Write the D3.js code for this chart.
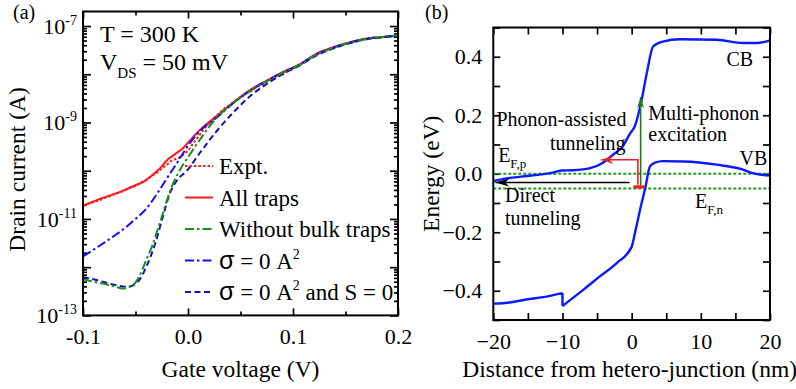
<!DOCTYPE html>
<html><head><meta charset="utf-8">
<script src="https://cdn.jsdelivr.net/npm/d3@7"></script>
<style>
body{margin:0;background:#fff}
svg{display:block}
text{font-family:"Liberation Serif","Times New Roman",serif;fill:#000}
</style></head><body>
<svg id="fig" width="796" height="389"></svg>
<script>
// ---------- (a) drain current vs gate voltage ----------
const expV = [-0.1,-0.095,-0.09,-0.085,-0.08,-0.075,-0.07,-0.065,-0.06,-0.055,-0.05,-0.045,-0.04,-0.035,-0.03,-0.025,-0.02,-0.015,-0.01,-0.005,0.0,0.005,0.01,0.015,0.02,0.025,0.03,0.035,0.04,0.045,0.05,0.055,0.06,0.065,0.07,0.075,0.08,0.085,0.09,0.095,0.1,0.105,0.11,0.115,0.12,0.125,0.13,0.135,0.14,0.145,0.15,0.155,0.16,0.165,0.17,0.175,0.18,0.185,0.19,0.195,0.2];
const expI = [1.85e-11,2.05e-11,2.25e-11,2.4e-11,2.7e-11,2.9e-11,3.25e-11,3.5e-11,3.9e-11,4.5e-11,4.8e-11,5.7e-11,6.3e-11,7.7e-11,8.9e-11,1.12e-10,1.33e-10,1.67e-10,1.78e-10,2.1e-10,2.6e-10,3.7e-10,5.1e-10,7.3e-10,9.4e-10,1.27e-9,1.58e-9,1.98e-9,2.32e-9,2.85e-9,3.3e-9,3.95e-9,4.45e-9,5.35e-9,5.95e-9,7.0e-9,7.8e-9,9.0e-9,9.9e-9,1.16e-8,1.28e-8,1.52e-8,1.73e-8,2.03e-8,2.32e-8,2.73e-8,2.97e-8,3.34e-8,3.57e-8,3.94e-8,4.17e-8,4.54e-8,4.76e-8,5.14e-8,5.36e-8,5.63e-8,5.77e-8,5.93e-8,6.0e-8,6.22e-8,6.4e-8];

const allV = [-0.1,-0.1,-0.09,-0.08,-0.07,-0.06,-0.05,-0.043,-0.035,-0.027,-0.02,-0.01,-0.005,0.0,0.011,0.028,0.043,0.059,0.075,0.09,0.107,0.123,0.138,0.154,0.17,0.185,0.2];
const allI = [1e-14,1.9e-11,2.3e-11,2.8e-11,3.3e-11,4.0e-11,5.0e-11,5.8e-11,7.8e-11,1.1e-10,1.65e-10,2.4e-10,2.9e-10,3.8e-10,6.9e-10,1.4e-9,2.6e-9,4.7e-9,7.4e-9,1.1e-8,1.65e-8,2.7e-8,3.6e-8,4.6e-8,5.5e-8,5.9e-8,6.3e-8];

const noBulkV = [-0.1,-0.1,-0.09,-0.08,-0.07,-0.062,-0.055,-0.05,-0.045,-0.039,-0.034,-0.03,-0.025,-0.02,-0.014,-0.007,0.0,0.011,0.028,0.043,0.06,0.075,0.09,0.107,0.123,0.138,0.154,0.17,0.185,0.2];
const noBulkI = [1e-14,5.6e-13,5.0e-13,4.5e-13,4.0e-13,3.6e-13,4.0e-13,4.8e-13,7.5e-13,1.55e-12,2.8e-12,5.1e-12,1.1e-11,2.45e-11,5.5e-11,1.1e-10,1.9e-10,4.3e-10,1.3e-9,2.5e-9,4.6e-9,7.2e-9,1.07e-8,1.6e-8,2.6e-8,3.5e-8,4.5e-8,5.4e-8,5.9e-8,6.4e-8];

const sigmaV = [-0.1,-0.09,-0.08,-0.07,-0.06,-0.05,-0.04,-0.03,-0.02,-0.01,0.0,0.011,0.028,0.043,0.059,0.075,0.09,0.107,0.123,0.138,0.154,0.17,0.185,0.2];
const sigmaI = [1.66e-12,2.3e-12,3.2e-12,4.5e-12,6.5e-12,1.0e-11,1.6e-11,3.2e-11,7.0e-11,1.5e-10,3.3e-10,6.5e-10,1.3e-9,2.5e-9,4.6e-9,7.3e-9,1.08e-8,1.62e-8,2.65e-8,3.55e-8,4.55e-8,5.45e-8,5.9e-8,6.3e-8];

const sigmaSV = [-0.1,-0.087,-0.07,-0.058,-0.05,-0.045,-0.039,-0.031,-0.024,-0.017,-0.0105,-0.001,0.011,0.028,0.043,0.059,0.075,0.09,0.107,0.123,0.138,0.154,0.17,0.185,0.2];
const sigmaSI = [6.3e-13,5.4e-13,4.3e-13,3.9e-13,4.5e-13,6.0e-13,1.1e-12,3.2e-12,1.1e-11,3.5e-11,6.3e-11,1.0e-10,2.3e-10,6.9e-10,1.6e-9,3.5e-9,6.3e-9,1.0e-8,1.55e-8,2.5e-8,3.4e-8,4.4e-8,5.3e-8,5.8e-8,6.3e-8];

const gateTicks = [-0.1, 0.0, 0.1, 0.2];
const gateLabels = ["-0.1", "0.0", "0.1", "0.2"];
const currentLabelExp = [-7, -9, -11, -13];
const legendNames = ["Expt.", "All traps", "Without bulk traps", "σ = 0 A2", "σ = 0 A2 and S = 0"];

// ---------- (b) band diagram ----------
const cbX = [-20,-19,-16,-13.3,-11.4,-10,-8.5,-6,-4.2,-2.7,-1.3,-0.3,0.5,1.45,2.2,3.1,4.5,7,12.3,16.1,18.1,20];
const cbE = [-0.025,-0.02,-0.01,-0.003,0.004,0.011,0.012,0.019,0.037,0.065,0.093,0.135,0.165,0.253,0.345,0.435,0.452,0.46,0.458,0.447,0.447,0.456];
const vbX = [-20,-17.6,-15.2,-12.8,-10,-10,-7,-4.6,-2.2,0,0.5,1.2,2.0,2.65,3.4,4.5,7.5,12.3,16.1,17.1,20];
const vbE = [-0.444,-0.44,-0.43,-0.422,-0.408,-0.452,-0.397,-0.351,-0.306,-0.25,-0.2,-0.125,-0.045,0.025,0.038,0.043,0.042,0.031,0.014,0.005,-0.006];
const fermiP = 0.0, fermiN = -0.05;
const trapX = [0.25, 1.85], trapE = -0.045;
const distTicks = [-20, -10, 0, 10, 20];
const energyTicks = [-0.4, -0.2, 0.0, 0.2, 0.4];

const svg = d3.select("#fig");
svg.append("rect").attr("width", 796).attr("height", 389).attr("fill", "#fff");

function drawTicks(g, axisFn, scale, values, size, tr) {
  g.append("g").attr("transform", tr)
    .call(axisFn(scale).tickValues(values).tickSize(-size).tickFormat(""))
    .call(s => s.select(".domain").remove())
    .selectAll("line").attr("stroke", "#000").attr("stroke-width", 1.7);
}

// smooth path that keeps vertical jumps (repeated x) as straight segments
function smoothPath(xs, ys, sx, sy) {
  const pts = xs.map((x, i) => [sx(x), sy(ys[i])]);
  const gen = d3.line().curve(d3.curveMonotoneX);
  const parts = []; let cur = [pts[0]];
  for (let i = 1; i < pts.length; i++) {
    if (xs[i] === xs[i - 1]) {
      parts.push(cur); parts.push([pts[i - 1], pts[i]]); cur = [pts[i]];
    } else cur.push(pts[i]);
  }
  parts.push(cur);
  return parts.filter(p => p.length > 1)
    .map(p => p.length === 2 ? d3.line()(p) : gen(p)).join("");
}

// ===== panel (a) =====
const xA = d3.scaleLinear().domain([-0.1, 0.2]).range([83, 398]);
const yA = d3.scaleLog().domain([1e-13, 2e-7]).range([315.4, 11.5]);
const gA = svg.append("g");
const [ax0, ax1] = xA.range(), [ay0, ay1] = yA.range();

gA.append("clipPath").attr("id", "clipA").append("rect")
  .attr("x", ax0).attr("y", ay1).attr("width", ax1 - ax0).attr("height", ay0 - ay1);

const majorDec = d3.range(-13, -6).map(e => Math.pow(10, e));
const minorDec = [];
d3.range(-13, -6).forEach(e => d3.range(2, 10).forEach(m => {
  const v = m * Math.pow(10, e); if (v < 2e-7) minorDec.push(v);
}));
const gateMinor = [-0.05, 0.05, 0.15];

drawTicks(gA, d3.axisBottom, xA, gateTicks, 7, `translate(0,${ay0})`);
drawTicks(gA, d3.axisBottom, xA, gateMinor, 4, `translate(0,${ay0})`);
drawTicks(gA, d3.axisTop, xA, gateTicks, 7, `translate(0,${ay1})`);
drawTicks(gA, d3.axisTop, xA, gateMinor, 4, `translate(0,${ay1})`);
drawTicks(gA, d3.axisLeft, yA, majorDec, 8, `translate(${ax0},0)`);
drawTicks(gA, d3.axisLeft, yA, minorDec, 4, `translate(${ax0},0)`);
drawTicks(gA, d3.axisRight, yA, majorDec, 8, `translate(${ax1},0)`);
drawTicks(gA, d3.axisRight, yA, minorDec, 4, `translate(${ax1},0)`);

// x tick labels
gA.append("g").attr("transform", `translate(0,${ay0})`)
  .call(d3.axisBottom(xA).tickValues(gateTicks).tickSize(0).tickPadding(13)
    .tickFormat((d, i) => gateLabels[i]))
  .call(s => s.select(".domain").remove())
  .selectAll("text").attr("font-size", 22).attr("font-family", "Liberation Serif");

// y tick labels 10^n
currentLabelExp.forEach(e => {
  const t = gA.append("text").attr("x", ax0 - 6).attr("y", yA(Math.pow(10, e)) + 8)
    .attr("text-anchor", "end").attr("font-size", 22);
  t.append("tspan").text("10");
  t.append("tspan").attr("dy", -9).attr("font-size", 14).text(String(e));
});

const seriesA = [
  { v: expV, i: expI, color: "#ff1a1a", dash: "2.5,2", w: 2 },
  { v: allV, i: allI, color: "#ff1a1a", dash: null, w: 2 },
  { v: noBulkV, i: noBulkI, color: "#1a8c1a", dash: "9,3,2.5,3", w: 2 },
  { v: sigmaV, i: sigmaI, color: "#1010ff", dash: "9,3,2.5,3", w: 2 },
  { v: sigmaSV, i: sigmaSI, color: "#1414b4", dash: "6,3.5", w: 2 }
];
const curvesA = gA.append("g").attr("clip-path", "url(#clipA)");
[1, 0, 3, 4, 2].forEach(k => {
  const s = seriesA[k];
  const d = k === 0
    ? d3.line().x((v, j) => xA(v)).y((v, j) => yA(s.i[j]))(s.v)
    : smoothPath(s.v, s.i, xA, yA);
  curvesA.append("path").attr("d", d).attr("fill", "none")
    .attr("stroke", s.color).attr("stroke-width", s.w)
    .attr("stroke-dasharray", s.dash).attr("stroke-linejoin", "round");
});

gA.append("rect").attr("x", ax0).attr("y", ay1).attr("width", ax1 - ax0).attr("height", ay0 - ay1)
  .attr("fill", "none").attr("stroke", "#000").attr("stroke-width", 2);

// legend
legendNames.forEach((name, k) => {
  const y = 166 + k * 31.5;
  const s = seriesA[k];
  gA.append("line").attr("x1", 185).attr("x2", 213).attr("y1", y).attr("y2", y)
    .attr("stroke", s.color).attr("stroke-width", s.w).attr("stroke-dasharray", s.dash);
  const t = gA.append("text").attr("x", 219).attr("y", y + 8).attr("font-size", 23);
  if (name.startsWith("σ")) {
    t.append("tspan").attr("font-family", "Liberation Sans").attr("font-size", 25).text("σ");
    t.append("tspan").text(" = 0 A");
    t.append("tspan").attr("dy", -10).attr("font-size", 14).text("2");
    t.append("tspan").attr("dy", 10).text(name.slice(8));
  } else t.text(name);
});

// conditions
gA.append("text").attr("x", 100).attr("y", 41.5).attr("font-size", 24).text("T = 300 K");
const vds = gA.append("text").attr("x", 100).attr("y", 69.5).attr("font-size", 24);
vds.append("tspan").text("V");
vds.append("tspan").attr("dy", 8).attr("font-size", 15).text("DS");
vds.append("tspan").attr("dy", -8).text(" = 50 mV");

gA.append("text").attr("x", (ax0 + ax1) / 2).attr("y", 377).attr("text-anchor", "middle")
  .attr("font-size", 23.5).text("Gate voltage (V)");
gA.append("text").attr("transform", `translate(25,${(ay0 + ay1) / 2 + 6}) rotate(-90)`)
  .attr("text-anchor", "middle").attr("font-size", 23.5).text("Drain current (A)");
gA.append("text").attr("x", 13).attr("y", 19).attr("font-size", 20).text("(a)");

// ===== panel (b) =====
const xB = d3.scaleLinear().domain([-20, 20]).range([493.3, 770]);
const yB = d3.scaleLinear().domain([-0.5, 0.5]).range([320, 27.5]);
const gB = svg.append("g");
const [bx0, bx1] = xB.range(), [by0, by1] = yB.range();

drawTicks(gB, d3.axisBottom, xB, d3.range(-20, 21, 5), 7, `translate(0,${by0})`);
drawTicks(gB, d3.axisTop, xB, d3.range(-20, 21, 5), 7, `translate(0,${by1})`);
const eTicksAll = d3.range(-5, 6).map(k => k / 10);
drawTicks(gB, d3.axisLeft, yB, eTicksAll, 7, `translate(${bx0},0)`);
drawTicks(gB, d3.axisRight, yB, eTicksAll, 7, `translate(${bx1},0)`);

gB.append("g").attr("transform", `translate(0,${by0})`)
  .call(d3.axisBottom(xB).tickValues(distTicks).tickSize(0).tickPadding(13).tickFormat(d3.format("d")))
  .call(s => s.select(".domain").remove())
  .selectAll("text").attr("font-size", 22).attr("font-family", "Liberation Serif");
gB.append("g").attr("transform", `translate(${bx0},0)`)
  .call(d3.axisLeft(yB).tickValues(energyTicks).tickSize(0).tickPadding(11).tickFormat(d3.format(".1f")))
  .call(s => s.select(".domain").remove())
  .selectAll("text").attr("font-size", 22).attr("font-family", "Liberation Serif");

// Fermi levels
[fermiP, fermiN].forEach(e => {
  gB.append("line").attr("x1", bx0).attr("x2", bx1).attr("y1", yB(e)).attr("y2", yB(e))
    .attr("stroke", "#1f9a1f").attr("stroke-width", 2).attr("stroke-dasharray", "3,2");
});

gB.append("path").attr("d", smoothPath(cbX, cbE, xB, yB)).attr("fill", "none").attr("stroke", "#0a1aff").attr("stroke-width", 2.4);
gB.append("path").attr("d", smoothPath(vbX, vbE, xB, yB)).attr("fill", "none").attr("stroke", "#0a1aff").attr("stroke-width", 2.4);

// arrow heads
const defs = svg.append("defs");
function head(id, color, w, h) {
  defs.append("marker").attr("id", id).attr("viewBox", `0 0 ${w} ${h}`)
    .attr("refX", w).attr("refY", h / 2).attr("markerWidth", w).attr("markerHeight", h)
    .attr("markerUnits", "userSpaceOnUse").attr("orient", "auto")
    .append("path").attr("d", `M0,0L${w},${h / 2}L0,${h}L${w * 0.3},${h / 2}Z`).attr("fill", color);
}
head("hBlack", "#000", 14, 8);
head("hRed", "#e8202a", 12, 8);
head("hGreen", "#1a7d1a", 11, 7);

// direct tunneling
gB.append("line").attr("x1", xB(-0.3)).attr("x2", xB(-19.7)).attr("y1", yB(-0.03)).attr("y2", yB(-0.03))
  .attr("stroke", "#000").attr("stroke-width", 1.6).attr("marker-end", "url(#hBlack)");
// phonon-assisted tunneling
gB.append("path").attr("d", d3.line()([[xB(0.9), yB(-0.038)], [xB(0.9), yB(0.048)], [xB(-4.4), yB(0.048)]]))
  .attr("fill", "none").attr("stroke", "#e8202a").attr("stroke-width", 1.6).attr("marker-end", "url(#hRed)");
// multi-phonon excitation
gB.append("line").attr("x1", xB(1.3)).attr("x2", xB(1.3)).attr("y1", yB(-0.04)).attr("y2", yB(0.262))
  .attr("stroke", "#1a7d1a").attr("stroke-width", 1.6).attr("marker-end", "url(#hGreen)");
// trap level
gB.append("line").attr("x1", xB(trapX[0])).attr("x2", xB(trapX[1])).attr("y1", yB(trapE)).attr("y2", yB(trapE))
  .attr("stroke", "#ff1a1a").attr("stroke-width", 3.2);

gB.append("rect").attr("x", bx0).attr("y", by1).attr("width", bx1 - bx0).attr("height", by0 - by1)
  .attr("fill", "none").attr("stroke", "#000").attr("stroke-width", 2);

// annotations
const ann = (x, y, txt, color) => gB.append("text").attr("x", xB(x)).attr("y", yB(y))
  .attr("font-size", 20).attr("fill", color || "#000").text(txt);
ann(-19.55, 0.164, "Phonon-assisted", "#e8202a");
ann(-11.8, 0.082, "tunneling", "#e8202a");
ann(2.4, 0.185, "Multi-phonon", "#1a7d1a");
ann(2.4, 0.111, "excitation", "#1a7d1a");
ann(13.7, 0.367, "CB");
ann(15.6, 0.031, "VB");
ann(-18.3, -0.095, "Direct");
ann(-18.3, -0.174, "tunneling");
function fermiLabel(x, y, sub) {
  const t = gB.append("text").attr("x", xB(x)).attr("y", yB(y)).attr("font-size", 20);
  t.append("tspan").text("E");
  t.append("tspan").attr("dy", 6).attr("font-size", 13).text(sub);
}
fermiLabel(-19.3, 0.041, "F,p");
fermiLabel(9.15, -0.116, "F,n");

gB.append("text").attr("x", (bx0 + bx1) / 2 - 2).attr("y", 377).attr("text-anchor", "middle")
  .attr("font-size", 23.5).text("Distance from hetero-junction (nm)");
gB.append("text").attr("transform", `translate(439,${yB(0)}) rotate(-90)`)
  .attr("text-anchor", "middle").attr("font-size", 23.5).text("Energy (eV)");
gB.append("text").attr("x", 425).attr("y", 19).attr("font-size", 20).text("(b)");
</script>
</body></html>
